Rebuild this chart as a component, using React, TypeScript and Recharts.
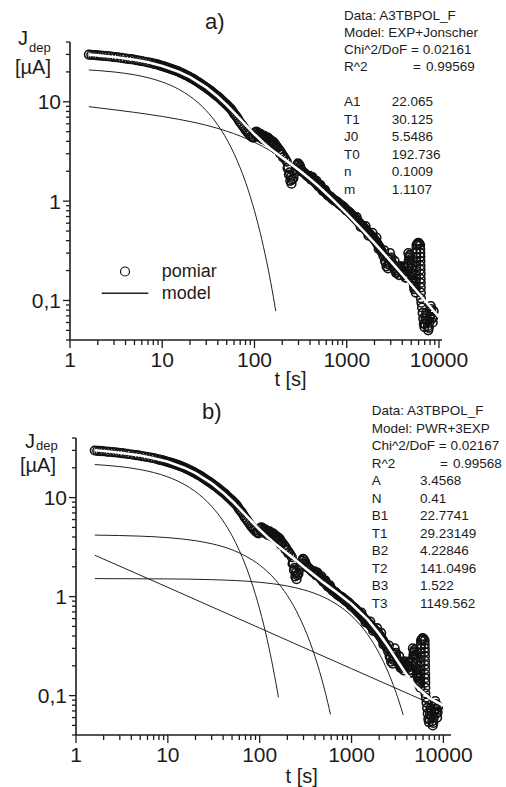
import React from "react";
import { ComposedChart, Scatter, Line, XAxis, YAxis } from "recharts";

// measured depolarisation current, same record in both panels: [t (s), J (uA)]
const measEarly = [
  [1.6, 29.9], [1.7, 29.7], [1.8, 29.6], [1.9, 29.5], [2.0, 29.4], [2.15, 29.2], [2.3, 29.0], [2.5, 28.8], [2.7, 28.6], [2.9, 28.4],
  [3.1, 28.2], [3.3, 28.0], [3.6, 27.7], [3.9, 27.4], [4.2, 27.1], [4.5, 26.9], [4.8, 26.7], [5.2, 26.3], [5.6, 26.0], [6.0, 25.7],
  [6.5, 25.3], [7.0, 25.0], [7.5, 24.6], [8.0, 24.2], [8.6, 23.9], [9.3, 23.4], [10, 22.9], [10.7, 22.5], [11.5, 22.0], [12.4, 21.5],
  [13.3, 21.0], [14.3, 20.5], [15.4, 19.9], [16.5, 19.3], [17.7, 18.7], [19, 18.1], [20.5, 17.4], [22, 16.8], [23.6, 16.1], [25.4, 15.4],
  [27.3, 14.7], [29.3, 14.1], [31.5, 13.4], [33.8, 12.8], [36.3, 12.1], [39, 11.5], [42, 10.9], [45, 10.2], [48.5, 9.6], [52, 9.0],
  [56, 8.4], [60, 7.6], [64.5, 7.0], [69, 6.3], [74, 5.8], [80, 5.2], [86, 4.8], [92, 4.5], [97, 4.35],
];
const measEarlyFill = [
  [8.3, 24.05], [8.95, 23.65], [9.65, 23.15], [10.35, 22.7], [11.1, 22.25], [11.95, 21.75], [12.85, 21.25], [13.8, 20.75], [14.85, 20.2], [15.95, 19.6],
  [17.1, 19.0], [18.35, 18.4], [19.75, 17.75], [21.25, 17.1], [22.8, 16.45], [24.5, 15.75], [26.35, 15.05], [28.3, 14.4], [30.4, 13.75], [32.65, 13.1],
  [35.05, 12.45], [37.65, 11.8], [40.5, 11.2], [43.5, 10.55], [46.75, 9.9], [50.25, 9.3], [54, 8.7], [58, 8.0], [62.25, 7.3], [66.75, 6.65],
  [71.5, 6.05], [77, 5.5], [83, 5.0], [89, 4.65], [94.5, 4.42],
];
const measBump = [
  [101, 4.9], [104, 5.0], [107, 4.95], [110, 4.8], [113, 4.7], [116, 4.75], [120, 4.6], [124, 4.5], [128, 4.55], [132, 4.4],
  [136, 4.3], [140, 4.35], [145, 4.2], [150, 4.1], [155, 4.0], [160, 3.95], [166, 3.8], [172, 3.6], [178, 3.45], [185, 3.3],
  [192, 3.15], [200, 2.95], [208, 2.8], [216, 2.65],
  [112, 4.4], [122, 4.2], [134, 4.05], [147, 3.85], [158, 3.65], [170, 3.35],
  [103, 4.6], [118, 4.45], [126, 4.35], [138, 4.15], [152, 3.9], [163, 3.7], [175, 3.5], [190, 3.0], [204, 2.75],
];
const measKnee = [
  [224, 2.5], [232, 2.2], [240, 1.95], [248, 1.75], [256, 1.65], [264, 1.7], [272, 1.9], [280, 2.1], [288, 2.3], [296, 2.4],
  [304, 2.35], [312, 2.25], [320, 2.1], [330, 2.0], [340, 1.95], [350, 1.9], [360, 1.85], [372, 1.8], [384, 1.75],
  [228, 2.15], [236, 1.85], [244, 1.6], [252, 1.5], [300, 2.15], [316, 2.0],
];
const measMid = [
  [396, 1.8], [410, 1.65], [425, 1.75], [440, 1.6], [455, 1.55], [470, 1.6], [485, 1.45], [500, 1.4], [520, 1.45], [540, 1.3],
  [560, 1.25], [580, 1.3], [600, 1.2], [625, 1.15], [650, 1.12], [675, 1.1], [700, 1.05], [730, 1.02], [760, 1.0], [790, 0.98],
  [820, 0.95], [850, 0.92], [880, 0.9], [910, 0.88], [940, 0.86], [970, 0.83], [1000, 0.8],
  [403, 1.72], [418, 1.7], [432, 1.68], [448, 1.58], [462, 1.52], [478, 1.52], [492, 1.42], [510, 1.43], [530, 1.38], [550, 1.28],
  [570, 1.27], [590, 1.25], [612, 1.17], [637, 1.13], [662, 1.11], [688, 1.07], [715, 1.04], [745, 1.01], [775, 0.99], [805, 0.965],
  [835, 0.935], [865, 0.91], [895, 0.89], [925, 0.87], [955, 0.845], [985, 0.815],
];
const measLate = [
  [1040, 0.79], [1080, 0.76], [1120, 0.74], [1160, 0.71], [1200, 0.69], [1250, 0.66], [1300, 0.64], [1350, 0.61], [1400, 0.59], [1450, 0.57],
  [1500, 0.55], [1560, 0.53], [1620, 0.51], [1680, 0.49], [1740, 0.47], [1800, 0.46], [1870, 0.44], [1940, 0.43], [2000, 0.41], [2080, 0.39],
  [2160, 0.37], [2240, 0.35], [2320, 0.33], [2400, 0.31],
  [1280, 0.69], [1420, 0.55], [1600, 0.56], [1720, 0.45], [1900, 0.48], [2100, 0.43], [2220, 0.33],
  [1060, 0.775], [1100, 0.75], [1140, 0.725], [1180, 0.7], [1225, 0.675], [1275, 0.65], [1325, 0.625], [1375, 0.6], [1425, 0.58], [1475, 0.56],
  [1530, 0.54], [1590, 0.52], [1650, 0.5], [1710, 0.48], [1770, 0.465], [1835, 0.45], [1905, 0.435], [1970, 0.42], [2040, 0.4], [2120, 0.38],
  [2200, 0.36], [2280, 0.34], [2360, 0.32],
];
const measTail = [
  [2500, 0.28], [2600, 0.25], [2700, 0.22], [2800, 0.21], [2900, 0.24], [3000, 0.26], [3100, 0.24], [3200, 0.22], [3350, 0.2], [3500, 0.19],
  [3650, 0.21], [3800, 0.22], [3950, 0.2], [4100, 0.19], [4250, 0.18], [4400, 0.17], [4550, 0.2], [4700, 0.25], [4800, 0.28], [4900, 0.26],
  [5000, 0.21], [5100, 0.18], [5200, 0.16], [5300, 0.15], [5400, 0.13],
  [2550, 0.32], [2750, 0.27], [2950, 0.3], [3300, 0.25], [3700, 0.18], [4200, 0.22], [4650, 0.3],
  [2450, 0.3], [2650, 0.24], [2850, 0.23], [3050, 0.27], [3150, 0.23], [3275, 0.21], [3425, 0.19], [3575, 0.2], [3725, 0.22], [3875, 0.21],
  [4025, 0.19], [4175, 0.2], [4325, 0.17], [4475, 0.18], [4600, 0.22], [4750, 0.27], [4850, 0.29], [4950, 0.24], [5050, 0.19], [5150, 0.17],
  [5250, 0.155], [5350, 0.14],
];
const measColumn = [
  [5450, 0.14], [5520, 0.13],
  [5600, 0.12], [5610, 0.135], [5620, 0.15], [5630, 0.165], [5640, 0.18], [5650, 0.2], [5660, 0.22], [5670, 0.245], [5680, 0.27], [5690, 0.3],
  [5700, 0.33], [5710, 0.36], [5800, 0.37], [5950, 0.38], [6100, 0.375],
  [6250, 0.36], [6260, 0.33], [6270, 0.3], [6280, 0.275], [6290, 0.25], [6300, 0.225], [6310, 0.205], [6320, 0.185], [6330, 0.165], [6340, 0.15],
  [6350, 0.135], [6360, 0.12], [6370, 0.105],
];
const measEnd = [
  [6450, 0.095], [6550, 0.085], [6650, 0.075], [6750, 0.066], [6850, 0.058], [6950, 0.054], [7050, 0.058], [7150, 0.066], [7250, 0.075], [7350, 0.07],
  [7450, 0.062], [7550, 0.055], [7650, 0.05], [7750, 0.053], [7850, 0.06], [7950, 0.068], [8050, 0.078], [8150, 0.088], [8250, 0.082], [8350, 0.074],
  [8450, 0.066], [8550, 0.06], [8650, 0.068], [8750, 0.078],
];

// panel a) EXP + Jonscher
const fitA = [
  [1.6, 29.85], [2, 29.36], [3, 28.29], [5, 26.52], [7, 24.98], [10, 22.95], [15, 20.08], [20, 17.69], [30, 13.96], [40, 11.25],
  [50, 9.26], [60, 7.78], [70, 6.68], [80, 5.85], [90, 5.21], [100, 4.71], [125, 3.87], [150, 3.35], [200, 2.74], [250, 2.35],
  [300, 2.07], [400, 1.669], [500, 1.393], [700, 1.041], [1000, 0.749], [1500, 0.505], [2000, 0.377], [2500, 0.3], [3000, 0.248],
  [4000, 0.1825], [5000, 0.144], [7000, 0.1], [10000, 0.068],
];
const expA = [
  [1.6, 20.92], [2, 20.65], [3, 19.97], [5, 18.69], [7, 17.49], [10, 15.83], [15, 13.41], [20, 11.36], [30, 8.15], [40, 5.85],
  [50, 4.2], [60, 3.01], [70, 2.16], [80, 1.551], [90, 1.113], [100, 0.798], [110, 0.573], [120, 0.411], [130, 0.295], [140, 0.212],
  [150, 0.152], [160, 0.109], [170, 0.078],
];
const jonA = [
  [1.6, 8.93], [2, 8.71], [3, 8.32], [5, 7.83], [7, 7.49], [10, 7.12], [15, 6.67], [20, 6.33], [30, 5.81], [50, 5.06],
  [70, 4.52], [100, 3.91], [150, 3.2], [200, 2.71], [300, 2.07], [500, 1.393], [700, 1.041], [1000, 0.749], [1500, 0.505], [2000, 0.377],
  [3000, 0.248], [5000, 0.144], [7000, 0.1], [10000, 0.068],
];

// panel b) PWR + 3EXP
const fitB = [
  [1.6, 30.11], [2, 29.56], [3, 28.41], [5, 26.58], [7, 25.01], [10, 22.98], [15, 20.07], [20, 17.67], [30, 13.92], [40, 11.22],
  [50, 9.25], [60, 7.77], [70, 6.69], [80, 5.87], [90, 5.23], [100, 4.74], [125, 3.9], [150, 3.37], [200, 2.72], [250, 2.31],
  [300, 2.0], [400, 1.62], [500, 1.375], [700, 1.093], [1000, 0.841], [1500, 0.585], [2000, 0.42], [2500, 0.313], [3000, 0.241],
  [4000, 0.162], [5000, 0.125], [7000, 0.095], [10000, 0.079],
];
const expB1 = [
  [1.6, 21.56], [2, 21.27], [3, 20.55], [5, 19.19], [7, 17.92], [10, 16.18], [15, 13.63], [20, 11.49], [30, 8.16], [40, 5.8],
  [50, 4.12], [60, 2.92], [70, 2.08], [80, 1.475], [90, 1.048], [100, 0.744], [110, 0.529], [120, 0.376], [130, 0.267], [140, 0.189],
  [150, 0.135], [160, 0.096],
];
const expB2 = [
  [1.6, 4.18], [3, 4.14], [5, 4.08], [10, 3.94], [20, 3.67], [30, 3.42], [50, 2.97], [70, 2.57], [100, 2.08], [150, 1.46],
  [200, 1.024], [250, 0.719], [300, 0.504], [350, 0.354], [400, 0.248], [450, 0.174], [500, 0.122], [550, 0.0856], [590, 0.0645],
];
const expB3 = [
  [1.6, 1.52], [10, 1.509], [30, 1.483], [100, 1.395], [200, 1.279], [300, 1.172], [500, 0.985], [700, 0.828], [1000, 0.638], [1500, 0.413],
  [2000, 0.267], [2500, 0.173], [3000, 0.112], [3300, 0.0863], [3650, 0.0636],
];
const pwrB = [[1.6, 2.62], [10, 1.24], [100, 0.481], [1000, 0.187], [10000, 0.0729]];

const xTicks = [1, 2, 3, 4, 5, 6, 7, 8, 9, 10, 20, 30, 40, 50, 60, 70, 80, 90, 100, 200, 300, 400, 500, 600, 700, 800, 900,
  1000, 2000, 3000, 4000, 5000, 6000, 7000, 8000, 9000, 10000];
const yTicks = [0.04, 0.05, 0.06, 0.07, 0.08, 0.09, 0.1, 0.2, 0.3, 0.4, 0.5, 0.6, 0.7, 0.8, 0.9, 1, 2, 3, 4, 5, 6, 7, 8, 9, 10, 20, 30, 40];
const yLabels: Record<string, string> = { "0.1": "0,1", "1": "1", "10": "10" };

const statsA = ["Data: A3TBPOL_F", "Model: EXP+Jonscher", "Chi^2/DoF = 0.02161"];
const paramsA = [["A1", "22.065"], ["T1", "30.125"], ["J0", "5.5486"], ["T0", "192.736"], ["n", "0.1009"], ["m", "1.1107"]];
const statsB = ["Data: A3TBPOL_F", "Model: PWR+3EXP", "Chi^2/DoF = 0.02167"];
const paramsB = [["A", "3.4568"], ["N", "0.41"], ["B1", "22.7741"], ["T1", "29.23149"], ["B2", "4.22846"], ["T2", "141.0496"], ["B3", "1.522"], ["T3", "1149.562"]];

const FONT = "'Liberation Sans', Arial, Helvetica, sans-serif";
const INK = "#1c1c1c";

const pts = (pairs: number[][]) => pairs.map(([t, J]) => ({ t, J }));
const measured = pts([
  ...measEarly, ...measEarlyFill, ...measBump, ...measKnee, ...measMid, ...measLate, ...measTail, ...measColumn, ...measEnd,
]);

const isMajor = (v: number) => Math.abs(Math.log10(v) - Math.round(Math.log10(v))) < 1e-6;

const XTick = (props: any) => {
  const { x, y, payload } = props;
  const v = payload.value;
  const major = isMajor(v);
  return (
    <g>
      <line x1={x} x2={x} y1={y} y2={y + (major ? 8 : 5)} stroke={INK} strokeWidth={1.3} />
      {major && (
        <text x={x} y={y + 27} textAnchor="middle" fontSize={21} fontFamily={FONT} fill={INK}>{v}</text>
      )}
    </g>
  );
};

const YTick = (props: any) => {
  const { x, y, payload } = props;
  const lab = yLabels[String(payload.value)];
  return (
    <g>
      <line x1={x - (lab ? 7 : 4)} x2={x} y1={y} y2={y} stroke={INK} strokeWidth={1.3} />
      {lab && (
        <text x={x - 9} y={y + 7.5} textAnchor="end" fontSize={21} fontFamily={FONT} fill={INK}>{lab}</text>
      )}
    </g>
  );
};

const Ring = (props: any) => <circle cx={props.cx} cy={props.cy} r={4.3} fill="none" stroke="#111" strokeWidth={1.6} />;
const NoMark = () => <g />;

type PanelProps = {
  height: number;
  margin: { top: number; right: number; bottom: number; left: number };
  xMax: number;
  fit: number[][];
  parts: { data: number[][]; type: "monotone" | "linear" }[];
};

const Panel = ({ height, margin, xMax, fit, parts }: PanelProps) => (
  <ComposedChart width={506} height={height} margin={margin}>
    <XAxis
      type="number" dataKey="t" scale="log" domain={[1, xMax]} allowDataOverflow
      ticks={xTicks} interval={0} tickLine={false} tickSize={0} tickMargin={0} height={40}
      axisLine={{ stroke: INK, strokeWidth: 1.6 }} tick={<XTick />}
    />
    <YAxis
      type="number" dataKey="J" scale="log" domain={[0.04, 40]} allowDataOverflow
      ticks={yTicks} interval={0} tickLine={false} tickSize={0} tickMargin={0} width={60}
      axisLine={{ stroke: INK, strokeWidth: 1.6 }} tick={<YTick />}
    />
    {parts.map((p, i) => (
      <Line key={i} data={pts(p.data)} dataKey="J" type={p.type} stroke="#222" strokeWidth={1} dot={false} activeDot={false} isAnimationActive={false} />
    ))}
    <Scatter data={measured} dataKey="J" shape={<Ring />} isAnimationActive={false} />
    {/* total fit, drawn white over the measured points */}
    <Scatter
      data={pts(fit)} dataKey="J" shape={<NoMark />} line={{ stroke: "#fff", strokeWidth: 2.6 }} lineType="joint"
      isAnimationActive={false}
    />
  </ComposedChart>
);

const T = (p: { x: number; y: number; size?: number; anchor?: string; children: React.ReactNode }) => (
  <text x={p.x} y={p.y} fontSize={p.size ?? 13.5} textAnchor={p.anchor ?? "start"} fontFamily={FONT} fill={INK}>{p.children}</text>
);

const Overlay = () => (
  <svg width={506} height={787} style={{ position: "absolute", left: 0, top: 0, pointerEvents: "none" }}>
    {/* panel a */}
    <T x={205} y={29} size={22}>a)</T>
    <T x={18} y={45} size={20}>J</T>
    <T x={29} y={52} size={13}>dep</T>
    <T x={15} y={74} size={20}>[µA]</T>
    <T x={290.5} y={386} size={20} anchor="middle">t [s]</T>
    {statsA.map((s, i) => <T key={s} x={344} y={19.5 + i * 17.3}>{s}</T>)}
    <T x={344} y={71}>R^2</T>
    <T x={413} y={71}>=</T>
    <T x={426} y={71}>0.99569</T>
    {paramsA.map(([k, v], i) => (
      <g key={k}>
        <T x={344} y={106 + i * 17.5}>{k}</T>
        <T x={391.7} y={106 + i * 17.5}>{v}</T>
      </g>
    ))}
    <circle cx={125} cy={271.5} r={4.5} fill="#fff" stroke="#111" strokeWidth={1.2} />
    <T x={161.7} y={276.5} size={18}>pomiar</T>
    <line x1={101.7} x2={148.3} y1={293.3} y2={293.3} stroke="#222" strokeWidth={1.5} />
    <T x={161.7} y={299} size={18}>model</T>

    {/* panel b */}
    <T x={202} y={419} size={22}>b)</T>
    <T x={25} y={448} size={20}>J</T>
    <T x={36} y={450} size={13}>dep</T>
    <T x={20} y={472} size={20}>[µA]</T>
    <T x={301.7} y={783} size={20} anchor="middle">t [s]</T>
    {statsB.map((s, i) => <T key={s} x={371.7} y={415 + i * 17.5}>{s}</T>)}
    <T x={371.7} y={467.5}>R^2</T>
    <T x={440} y={467.5}>=</T>
    <T x={453} y={467.5}>0.99568</T>
    {paramsB.map(([k, v], i) => (
      <g key={k}>
        <T x={371.7} y={485 + i * 17.5}>{k}</T>
        <T x={420} y={485 + i * 17.5}>{v}</T>
      </g>
    ))}
  </svg>
);

export default function App() {
  return (
    <div style={{ position: "absolute", left: 0, top: 0, width: 506, height: 787, background: "#fff", fontFamily: FONT }}>
      <div style={{ position: "absolute", left: 0, top: 0 }}>
        <Panel
          height={395}
          margin={{ top: 42, right: 64, bottom: 15, left: 10 }}
          xMax={10780}
          fit={fitA}
          parts={[{ data: expA, type: "monotone" }, { data: jonA, type: "monotone" }]}
        />
      </div>
      <div style={{ position: "absolute", left: 0, top: 395 }}>
        <Panel
          height={392}
          margin={{ top: 43, right: 55, bottom: 12, left: 16 }}
          xMax={12100}
          fit={fitB}
          parts={[
            { data: expB1, type: "monotone" },
            { data: expB2, type: "monotone" },
            { data: expB3, type: "monotone" },
            { data: pwrB, type: "linear" },
          ]}
        />
      </div>
      <Overlay />
    </div>
  );
}
